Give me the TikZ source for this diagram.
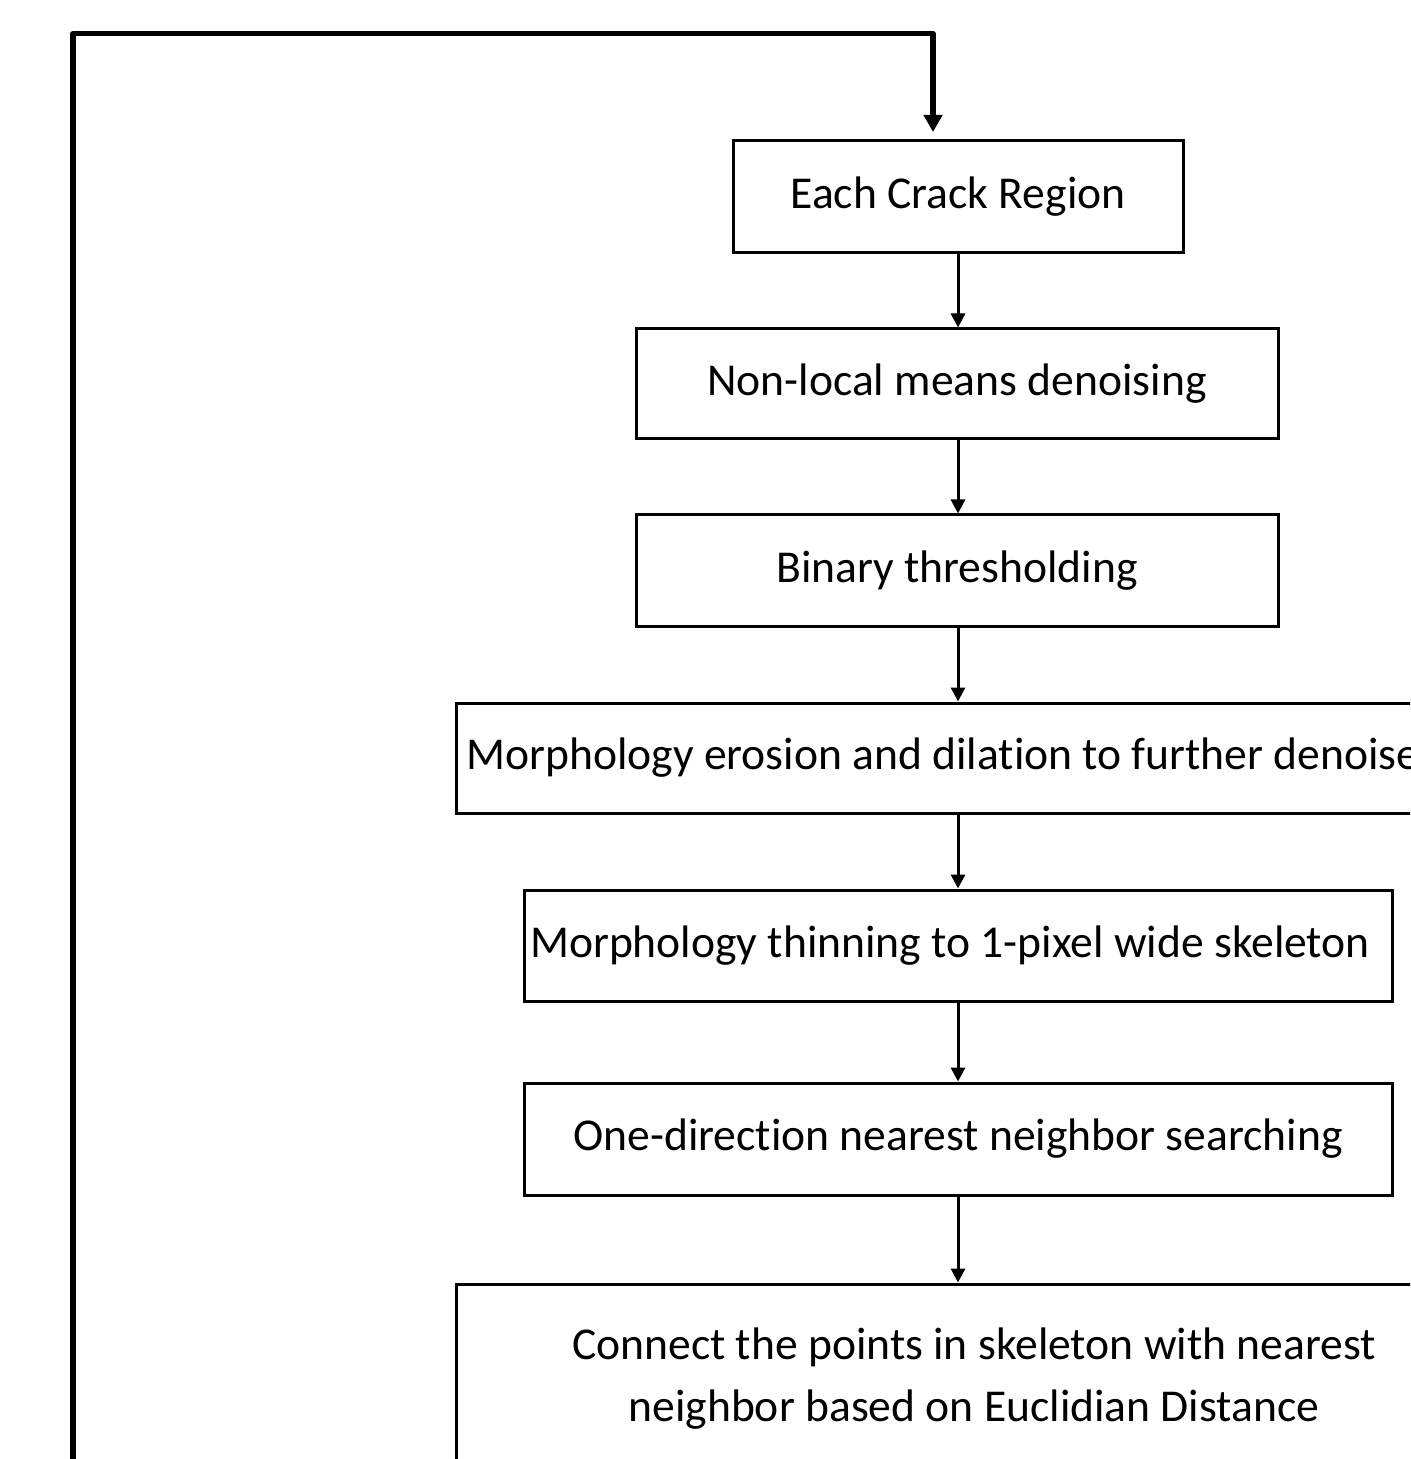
\documentclass[tikz,border=0pt]{standalone}
\usepackage{fontspec}
\setmainfont[Ligatures=NoCommon]{Carlito}
\usetikzlibrary{arrows.meta}
\begin{document}
\begin{tikzpicture}[x=0.5pt,y=-0.5pt,
  procbox/.style={draw=black,line width=1.5pt,rectangle,inner sep=0pt,
    font=\fontsize{22.8}{31}\selectfont,align=center},
  flowarrow/.style={line width=1.5pt,-{Triangle[width=7pt,length=7pt]}},
  looparrow/.style={line width=2.6pt,line join=round,-{Triangle[width=9pt,length=8.5pt]}}]
\useasboundingbox (0,0) rectangle (1410,1459);
\clip (0,0) rectangle (1410,1459);
\node[procbox,minimum width=225pt,minimum height=56pt] (b1) at (958,197) {Each Crack Region};
\node[procbox,minimum width=321pt,minimum height=55pt] (b2) at (957,384) {Non-local means denoising};
\node[procbox,minimum width=321pt,minimum height=55.5pt] (b3) at (957,570.5) {Binary thresholding};
\node[procbox,minimum width=502pt,minimum height=55pt] (b4) at (958,758) {Morphology erosion and dilation to further denoise\hspace*{15pt}};
\node[procbox,minimum width=434pt,minimum height=55.5pt] (b5) at (958,945.5) {Morphology thinning to 1-pixel wide skeleton\hspace*{8pt}};
\node[procbox,minimum width=434pt,minimum height=56pt] (b6) at (958,1139) {One-direction nearest neighbor searching};
\node[procbox,minimum width=518pt,minimum height=95pt] (b7) at (974,1379) {Connect the points in skeleton with nearest\\neighbor based on Euclidian Distance};
\draw[flowarrow] (b1.south -| 958,0) -- (b2.north -| 958,0);
\draw[flowarrow] (b2.south -| 958,0) -- (b3.north -| 958,0);
\draw[flowarrow] (b3.south -| 958,0) -- (b4.north -| 958,0);
\draw[flowarrow] (b4.south -| 958,0) -- (b5.north -| 958,0);
\draw[flowarrow] (b5.south -| 958,0) -- (b6.north -| 958,0);
\draw[flowarrow] (b6.south -| 958,0) -- (b7.north -| 958,0);
\coordinate (loopstart) at (73,1480);
\coordinate (looptip) at (933,132);
\draw[looparrow] (loopstart) -- (73,33.5) -- (933,33.5) -- (looptip);
\end{tikzpicture}
\end{document}
